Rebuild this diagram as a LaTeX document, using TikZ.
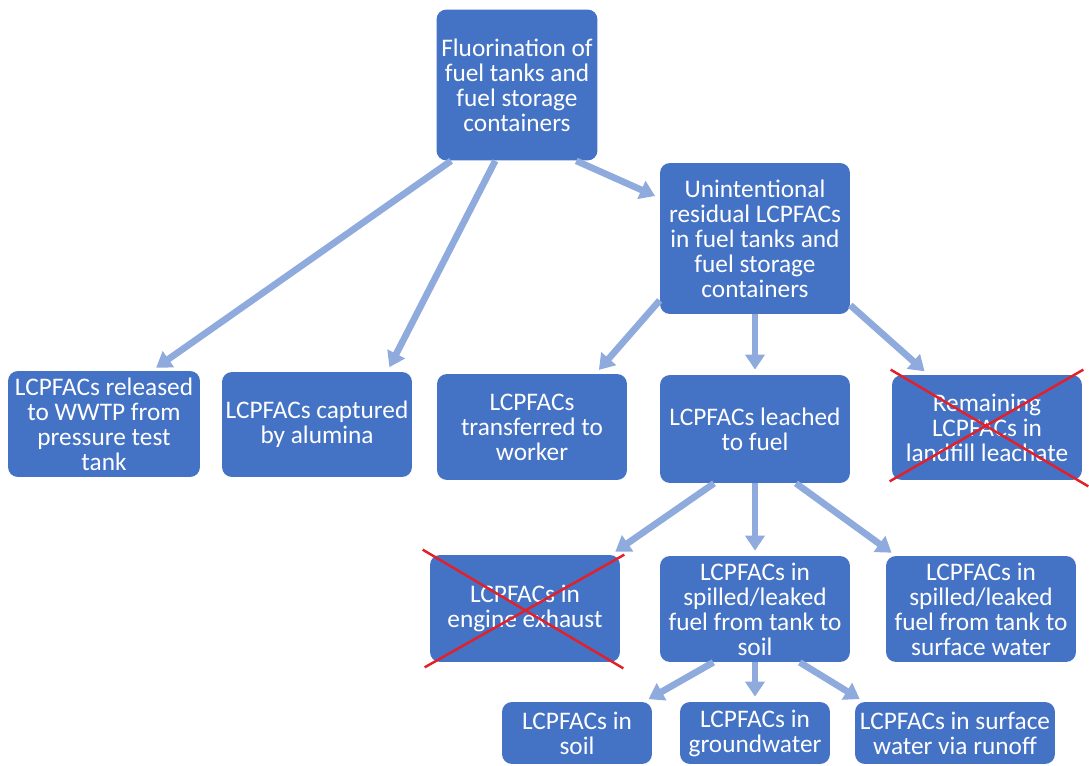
\documentclass[tikz,border=0pt]{standalone}
\usepackage{fontspec}
\setmainfont{Carlito}
\usetikzlibrary{arrows.meta,positioning}
\definecolor{boxblue}{HTML}{4472C4}
\definecolor{arrowblue}{HTML}{8FAADC}
\definecolor{crossred}{HTML}{E3202A}

\begin{document}
\begin{tikzpicture}[x=0.02cm, y=-0.02cm,
    box/.style={fill=boxblue, text=white, rounded corners=0.2cm, align=center, inner sep=0pt,
      font=\fontsize{14.4}{14.2}\selectfont},
    arr/.style={arrowblue, line width=3.8pt, -{Triangle[width=0.38cm,length=0.3cm]}, shorten >=0.1cm},
    cross/.style={crossred, line width=1.4pt}]
    \useasboundingbox (0,0) rectangle (1089,766);

    \node[box, minimum width=3.22cm, minimum height=3.02cm] (fluor) at (517,85) {Fluorination of\\fuel tanks and\\fuel storage\\containers};
    \node[box, minimum width=3.8cm, minimum height=3.02cm] (unint) at (755,238.5) {Unintentional\\residual LCPFACs\\in fuel tanks and\\fuel storage\\containers};

    \node[box, minimum width=3.84cm, minimum height=2.12cm] (wwtp) at (104,424) {LCPFACs released\\to WWTP from\\pressure test\\tank};
    \node[box, minimum width=3.8cm, minimum height=2.1cm] (alumina) at (317,424.5) {LCPFACs captured\\by alumina};
    \node[box, minimum width=3.8cm, minimum height=2.12cm] (transfer) at (532,427) {LCPFACs\\transferred to\\worker};
    \node[box, minimum width=3.8cm, minimum height=2.16cm] (leached) at (755,429) {LCPFACs leached\\to fuel};
    \node[box, minimum width=3.8cm, minimum height=2.1cm] (remain) at (987,427.5) {Remaining\\LCPFACs in\\landfill leachate};

    \node[box, minimum width=3.8cm, minimum height=2.14cm] (engine) at (525,608.5) {LCPFACs in\\engine exhaust};
    \node[box, minimum width=3.8cm, minimum height=2.12cm] (spilled) at (755,609) {LCPFACs in\\spilled/leaked\\fuel from tank to\\soil};
    \node[box, minimum width=3.8cm, minimum height=2.12cm] (surface) at (981,609) {LCPFACs in\\spilled/leaked\\fuel from tank to\\surface water};

    \node[box, minimum width=3.0cm, minimum height=1.24cm] (soil) at (577,733) {LCPFACs in\\soil};
    \node[box, minimum width=3.0cm, minimum height=1.24cm] (ground) at (755,733) {LCPFACs in\\groundwater};
    \node[box, minimum width=4.0cm, minimum height=1.24cm] (runoff) at (955,733) {LCPFACs in surface\\water via runoff};

    \draw[arr] (fluor.229) -- (wwtp.48);
    \draw[arr] (fluor.254) -- (alumina.37);
    \draw[arr] (fluor.308) -- (unint.157);
    \draw[arr] (unint.213) -- (transfer.40);
    \draw[arr] (unint.south) -- (leached.north);
    \draw[arr] (unint.325) -- (remain.138);
    \draw[arr] (leached.233) -- (engine.32);
    \draw[arr] (leached.south) -- (spilled.north);
    \draw[arr] (leached.307) -- (surface.148);
    \draw[arr] (spilled.232) -- (soil.25);
    \draw[arr] (spilled.south) -- (ground.north);
    \draw[arr] (spilled.310) -- (runoff.161);

    % crossed out
    \draw[cross] ([shift={(-1,-5)}]remain.north west) -- ([shift={(6,6)}]remain.south east);
    \draw[cross] ([shift={(1,-5)}]remain.north east) -- ([shift={(-2,1)}]remain.south west);
    \draw[cross] ([shift={(-7,-5)}]engine.north west) -- ([shift={(3,6)}]engine.south east);
    \draw[cross] ([shift={(4,0)}]engine.north east) -- ([shift={(-5,5)}]engine.south west);
\end{tikzpicture}
\end{document}
